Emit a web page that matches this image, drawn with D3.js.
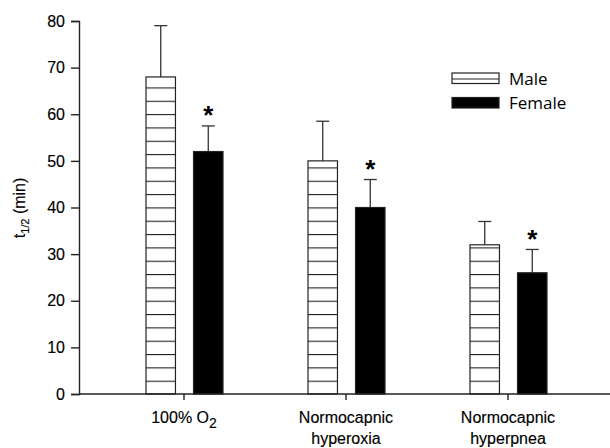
<!DOCTYPE html>
<html lang="en">
<head>
    <meta charset="UTF-8">
    <title>t1/2 by sex</title>
    <style>
        body { margin: 0; padding: 0; background: #fff; }
        #chart { width: 610px; height: 448px; }
        svg text { font-family: "Liberation Sans", Arial, Helvetica, sans-serif; fill: #000; }
        svg .legend text { font-family: "Open Sans", Lato, sans-serif; }
        .thick { stroke: #000; stroke-width: 0.15px; }
    </style>
</head>
<body>
<div id="chart"></div>
<script src="https://d3js.org/d3.v7.min.js"></script>
<script>
    // Data
    const categories = ["100% O2", "Normocapnic hyperoxia", "Normocapnic hyperpnea"];
    const series = ["Male", "Female"];
    const maleMeans = [68, 50, 32];
    const maleErr = [11, 8.5, 5];
    const femaleMeans = [52, 40, 26];
    const femaleErr = [5.5, 6, 5];
    const significant = [true, true, true];
    const yTicks = [0, 10, 20, 30, 40, 50, 60, 70, 80];

    const width = 610, height = 448;
    const margin = { left: 79, top: 21, bottom: 54 };
    const axisFont = "'Liberation Sans', Arial, sans-serif";

    const svg = d3.select("#chart").append("svg")
        .attr("width", width)
        .attr("height", height);

    // Hatch pattern for male bars
    const defs = svg.append("defs");
    const pattern = defs.append("pattern")
        .attr("id", "hatch")
        .attr("patternUnits", "userSpaceOnUse")
        .attr("width", 10)
        .attr("height", 13.33)
        .attr("y", height - margin.bottom);
    pattern.append("rect").attr("width", 10).attr("height", 13.33).attr("fill", "#fff");
    pattern.append("line")
        .attr("x1", 0).attr("x2", 10)
        .attr("y1", 0.5).attr("y2", 0.5)
        .attr("stroke", "#222").attr("stroke-width", 1.2);

    // Scales
    const y = d3.scaleLinear()
        .domain([0, 80])
        .range([height - margin.bottom, margin.top]);

    const x0 = d3.scaleBand()
        .domain(categories)
        .range([103, 589]);

    const x1 = d3.scaleBand()
        .domain(series)
        .range([43, 120])
        .paddingInner(0.38);

    const rows = categories.map((c, i) => ({
        cat: c,
        sig: significant[i],
        bars: [
            { s: "Male", v: maleMeans[i], e: maleErr[i] },
            { s: "Female", v: femaleMeans[i], e: femaleErr[i] }
        ]
    }));

    const groups = svg.append("g").selectAll("g")
        .data(rows)
        .enter().append("g")
        .attr("transform", d => `translate(${x0(d.cat)},0)`);

    // Error bars (upper only)
    groups.selectAll("g.err")
        .data(d => d.bars)
        .enter().append("g")
        .attr("class", "err")
        .each(function (d) {
            const g = d3.select(this);
            const cx = x1(d.s) + x1.bandwidth() / 2;
            g.append("line")
                .attr("x1", cx).attr("x2", cx)
                .attr("y1", y(d.v)).attr("y2", y(d.v + d.e))
                .attr("stroke", "#333").attr("stroke-width", 1.3);
            g.append("line")
                .attr("x1", cx - 6.5).attr("x2", cx + 6.5)
                .attr("y1", y(d.v + d.e)).attr("y2", y(d.v + d.e))
                .attr("stroke", "#333").attr("stroke-width", 1.3);
        });

    // Bars
    groups.selectAll("rect")
        .data(d => d.bars)
        .enter().append("rect")
        .attr("x", d => x1(d.s))
        .attr("y", d => y(d.v))
        .attr("width", x1.bandwidth())
        .attr("height", d => y(0) - y(d.v))
        .attr("fill", d => d.s === "Male" ? "url(#hatch)" : "#000")
        .attr("stroke", "#222")
        .attr("stroke-width", 1.2);

    // Significance stars
    groups.filter(d => d.sig).append("text")
        .attr("x", x1("Female") + x1.bandwidth() / 2)
        .attr("y", d => y(d.bars[1].v + d.bars[1].e) - 16)
        .attr("text-anchor", "middle")
        .attr("dy", "0.55em")
        .style("font-family", axisFont)
        .style("font-size", "26px")
        .style("font-weight", "bold")
        .text("*");

    // Y axis
    const yAxis = svg.append("g")
        .attr("transform", `translate(${margin.left},0)`)
        .call(d3.axisLeft(y).tickValues(yTicks).tickSize(8).tickPadding(6));
    yAxis.select(".domain").attr("stroke", "#222").attr("stroke-width", 1.4);
    yAxis.selectAll(".tick line").attr("stroke", "#222").attr("stroke-width", 1.4);
    yAxis.selectAll(".tick text")
        .attr("class", "thick")
        .style("font-family", axisFont)
        .style("font-size", "16px");

    // X axis
    const xAxis = svg.append("g")
        .attr("transform", `translate(0,${y(0)})`)
        .call(d3.axisBottom(x0).tickSize(6).tickSizeOuter(0).tickFormat(""));
    xAxis.select(".domain").attr("d", `M${margin.left},0H${width}`)
        .attr("stroke", "#222").attr("stroke-width", 1.4);
    xAxis.selectAll(".tick line").attr("stroke", "#222").attr("stroke-width", 1.4);

    // Category labels
    const labelLines = {
        "100% O2": null,
        "Normocapnic hyperoxia": ["Normocapnic", "hyperoxia"],
        "Normocapnic hyperpnea": ["Normocapnic", "hyperpnea"]
    };
    categories.forEach(c => {
        const cx = x0(c) + x0.bandwidth() / 2;
        const t = svg.append("text")
            .attr("class", "thick")
            .attr("x", cx)
            .attr("y", 423)
            .attr("text-anchor", "middle")
            .style("font-family", axisFont)
            .style("font-size", "16px");
        if (labelLines[c] === null) {
            t.append("tspan").text("100% O");
            t.append("tspan").attr("dy", 5).style("font-size", "14px").text("2");
        } else {
            t.append("tspan").attr("x", cx).text(labelLines[c][0]);
            t.append("tspan").attr("x", cx).attr("dy", 21).text(labelLines[c][1]);
        }
    });

    // Y axis title
    const yt = svg.append("text")
        .attr("class", "thick")
        .attr("transform", "translate(25,208) rotate(-90)")
        .attr("text-anchor", "middle")
        .style("font-family", axisFont)
        .style("font-size", "16px");
    yt.append("tspan").text("t");
    yt.append("tspan").attr("dy", 4).style("font-size", "11px").text("1/2");
    yt.append("tspan").attr("dy", -4).text(" (min)");

    // Legend
    const legend = svg.append("g").attr("class", "legend")
        .attr("transform", "translate(452,73)");
    series.forEach((s, i) => {
        const g = legend.append("g").attr("transform", `translate(0,${i * 24.5})`);
        g.append("rect")
            .attr("width", 47).attr("height", 10.5)
            .attr("fill", s === "Male" ? "#fff" : "#000")
            .attr("stroke", "#222").attr("stroke-width", 1.2);
        if (s === "Male") {
            g.append("line")
                .attr("x1", 0).attr("x2", 47)
                .attr("y1", 6).attr("y2", 6)
                .attr("stroke", "#222").attr("stroke-width", 1.1);
        }
        g.append("text")
            .attr("x", 57).attr("y", 6)
            .attr("dy", "0.35em")
            .style("font-size", "17px")
            .text(s);
    });
</script>
</body>
</html>
